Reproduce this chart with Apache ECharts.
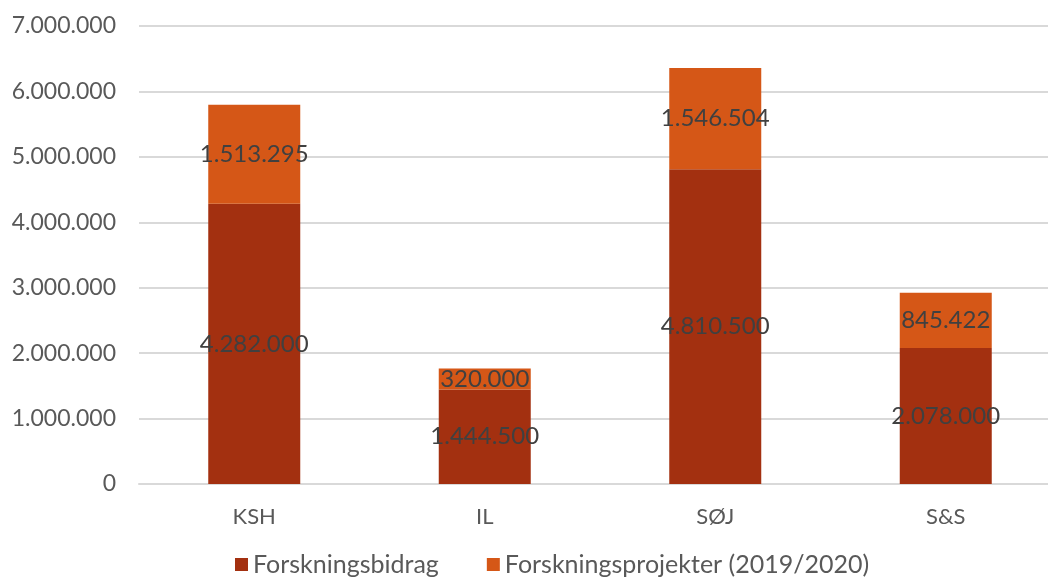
<!DOCTYPE html>
<html><head><meta charset="utf-8">
<script src="https://cdn.jsdelivr.net/npm/echarts@6/dist/echarts.min.js"></script>
<style>html,body{margin:0;padding:0;background:#fff}#c{width:1048px;height:580px}</style>
</head><body><div id="c"></div>
<script>
const categories = ['KSH', 'IL', 'SØJ', 'S&S'];
const forskningsbidrag = [4282000, 1444500, 4810500, 2078000];
const forskningsprojekter = [1513295, 320000, 1546504, 845422];
const seriesNames = ['Forskningsbidrag', 'Forskningsprojekter (2019/2020)'];

const fmt = v => String(Math.round(v)).replace(/\B(?=(\d{3})+(?!\d))/g, '.');
const font = 'Lato, "Noto Sans", sans-serif';
const chart = echarts.init(document.getElementById('c'));
const lbl = {show: true, position: 'inside', color: '#404040', fontSize: 24, fontFamily: font, formatter: p => fmt(p.value)};
chart.setOption({
  animation: false,
  grid: {left: 139, width: 922, top: 26, bottom: 96, outerBoundsMode: 'none', containLabel: false},
  legend: {bottom: -2, left: 230, itemWidth: 13, itemHeight: 13, itemGap: 48, icon: 'rect',
    textStyle: {color: '#595959', fontSize: 25, fontFamily: font}},
  xAxis: {type: 'category', data: categories,
    axisLine: {lineStyle: {color: '#d9d9d9', width: 2}}, axisTick: {show: false},
    axisLabel: {color: '#595959', fontSize: 22, fontFamily: font, margin: 22}},
  yAxis: {type: 'value', min: 0, max: 7000000, interval: 1000000,
    splitLine: {lineStyle: {color: '#d9d9d9', width: 2}},
    axisLabel: {color: '#595959', fontSize: 23, fontFamily: font, margin: 23, formatter: fmt}},
  series: [
    {name: seriesNames[0], type: 'bar', stack: 's', data: forskningsbidrag, barWidth: 92,
      itemStyle: {color: '#A33010'}, label: lbl},
    {name: seriesNames[1], type: 'bar', stack: 's', data: forskningsprojekter, barWidth: 92,
      itemStyle: {color: '#D55717'}, label: lbl}
  ]
});
</script></body></html>
